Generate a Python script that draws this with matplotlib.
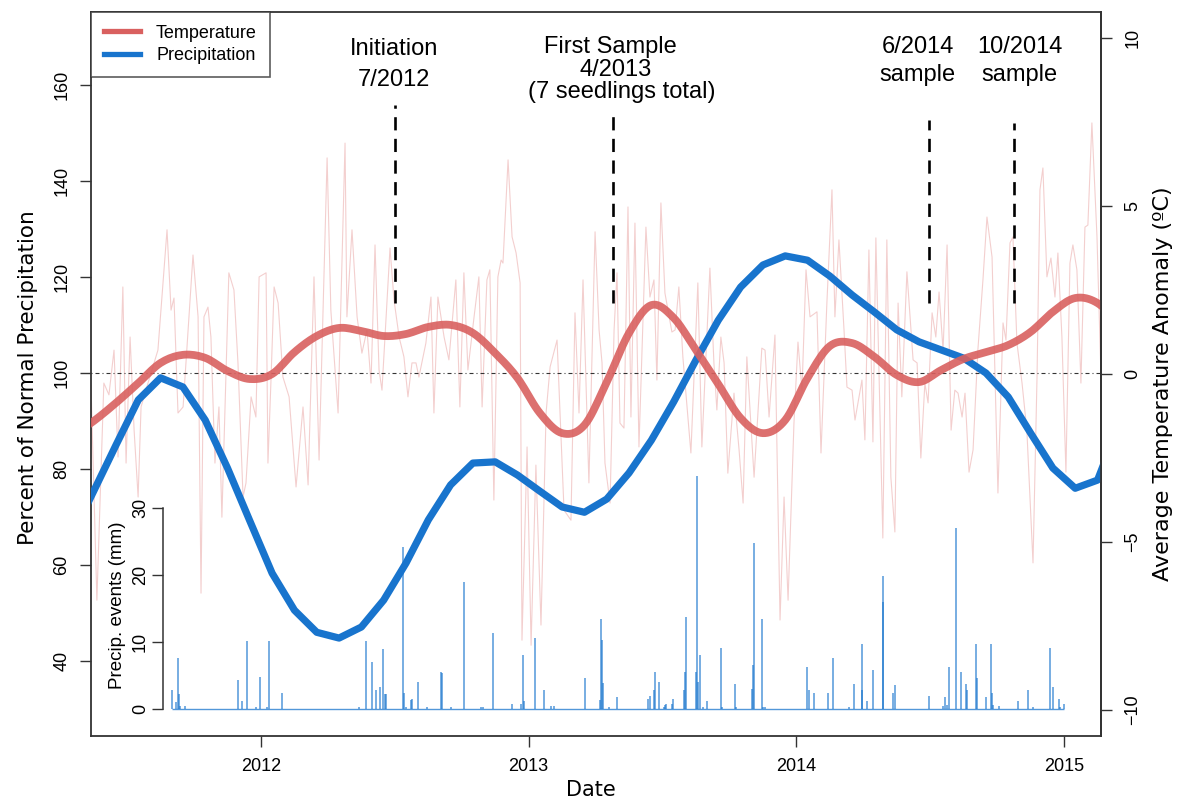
import numpy as np
import matplotlib
matplotlib.use("Agg")
import matplotlib.pyplot as plt
from matplotlib.lines import Line2D

plt.rcParams['font.family'] = ['Liberation Sans', 'DejaVu Sans']

# ---- data ----
# smoothed monthly series (mid-month), Apr 2011 .. Mar 2015
month_first = 2011 + 3.5 / 12
precip_pct = [65.8, 75.4, 85.0, 94.4, 99.0, 97.1, 90.2, 80.2, 69.2,
              58.3, 50.6, 46.0, 44.8, 47.1, 52.7, 60.4, 69.4, 76.7, 81.25, 81.5, 78.75,
              75.4, 72.1, 71.0, 73.75, 79.2, 86.0, 94.0, 102.7, 111.0, 117.9, 122.5, 124.4,
              123.5, 120.2, 116.25, 112.7, 109.0, 106.5, 104.8, 103.1, 100.0, 95.0, 87.5, 80.2,
              76.0, 77.7, 89.6]
temp_smooth = [-1.85, -1.40, -0.86, -0.27, 0.33, 0.57, 0.48, 0.09, -0.15,
               0.00, 0.65, 1.13, 1.37, 1.28, 1.13, 1.19, 1.40, 1.46, 1.22, 0.62, -0.12,
               -1.16, -1.76, -1.52, -0.24, 1.22, 2.05, 1.67, 0.71, -0.30, -1.31, -1.76, -1.37,
               -0.12, 0.83, 0.92, 0.51, -0.03, -0.24, 0.12, 0.45, 0.65, 0.86, 1.25, 1.85,
               2.26, 2.11, 1.46]

# raw temperature anomaly (faint line)
temp_raw_x = [2011.365, 2011.387, 2011.413, 2011.432, 2011.451, 2011.466, 2011.484, 2011.496,
              2011.511, 2011.526, 2011.541, 2011.552, 2011.570, 2011.615, 2011.649, 2011.664,
              2011.675, 2011.690, 2011.709, 2011.746, 2011.765, 2011.776, 2011.787, 2011.802,
              2011.813, 2011.828, 2011.843, 2011.854, 2011.880, 2011.899, 2011.914, 2011.933,
              2011.944, 2011.963, 2011.981, 2011.993, 2012.019, 2012.026, 2012.037, 2012.049,
              2012.064, 2012.082, 2012.105, 2012.131, 2012.157, 2012.176, 2012.198, 2012.217,
              2012.247, 2012.261, 2012.288, 2012.314,
              2012.321, 2012.340, 2012.359, 2012.377, 2012.396, 2012.411, 2012.426, 2012.441,
              2012.452, 2012.482, 2012.497, 2012.516, 2012.534, 2012.549, 2012.564, 2012.579,
              2012.590, 2012.616, 2012.635, 2012.646, 2012.661, 2012.684, 2012.702, 2012.728,
              2012.743, 2012.758, 2012.773, 2012.796, 2012.814, 2012.826, 2012.844, 2012.855,
              2012.870, 2012.885, 2012.897, 2012.904, 2012.923, 2012.938, 2012.953, 2012.968,
              2012.975, 2012.994, 2013.009, 2013.027, 2013.046, 2013.065, 2013.080, 2013.106,
              2013.132, 2013.158, 2013.173, 2013.188, 2013.203, 2013.225, 2013.248, 2013.263,
              2013.274, 2013.285, 2013.304, 2013.319, 2013.330, 2013.341, 2013.356, 2013.371,
              2013.382, 2013.397, 2013.412, 2013.438, 2013.453, 2013.468, 2013.479, 2013.494,
              2013.509, 2013.535, 2013.547, 2013.561, 2013.576, 2013.606, 2013.632, 2013.647,
              2013.677, 2013.692, 2013.703, 2013.718, 2013.730, 2013.744, 2013.767, 2013.786,
              2013.801, 2013.815, 2013.842, 2013.871, 2013.883, 2013.898, 2013.920, 2013.939,
              2013.954, 2013.969, 2013.991, 2014.006, 2014.021, 2014.036, 2014.051, 2014.077,
              2014.092, 2014.114, 2014.133, 2014.144, 2014.159, 2014.178, 2014.189, 2014.208,
              2014.219, 2014.245, 2014.256, 2014.271, 2014.286, 2014.297, 2014.323, 2014.338,
              2014.353, 2014.368, 2014.380, 2014.394, 2014.413, 2014.436, 2014.451, 2014.465,
              2014.480, 2014.492, 2014.507, 2014.521, 2014.533, 2014.548, 2014.563, 2014.578,
              2014.592, 2014.604, 2014.619, 2014.630, 2014.645, 2014.660, 2014.678, 2014.697,
              2014.712, 2014.731, 2014.753, 2014.772, 2014.783, 2014.798, 2014.809, 2014.824,
              2014.843, 2014.861, 2014.884, 2014.899, 2014.910, 2014.921, 2014.936, 2014.951,
              2014.966, 2014.977, 2014.992, 2015.007, 2015.022, 2015.033, 2015.048, 2015.063,
              2015.078, 2015.089, 2015.104, 2015.123, 2015.138]
temp_raw = [-0.33, -6.73, -0.27, -0.62, 0.71, -2.47, 2.59, -2.65, 1.10, -1.67, -3.66, -0.98,
            -0.48, 0.71, 4.29, 1.90, 2.26, -1.16, -0.98, 3.54, 1.70, -6.52, 1.70, 1.99, 1.10,
            -2.65, -0.98, -4.26, 3.01, 2.50, 0.33, -3.66, -3.24, -0.68, -1.28, 2.89, 3.01, -2.65,
            -0.27, 2.59, 2.11, -0.09, -0.68, -3.36, -0.98, -3.30, 2.89, -2.56, 6.43, 1.90, -1.16,
            6.87,
            1.70, 4.29, 1.70, 0.62, 1.31, -0.27, 3.84, 0.12, -0.48, 3.75, 2.20, 1.10, 0.51, -0.68,
            0.33, 0.33, -0.09, 0.92, 2.29, -1.16, 2.29, 1.10, 0.42, 2.80, -0.98, 3.01, 0.12, 1.70,
            2.89, -0.98, 2.80, 3.10, -3.75, 2.89, 3.39, 3.30, 6.37, 4.08, 3.60, 2.71, -7.92, -2.17,
            -8.07, -2.71, -7.47, -1.16, 0.21, 1.01, -4.05, -4.35, 1.82, -1.16, 2.80, -3.24, 4.23,
            1.31,
            0.33, -2.65, -3.84, 1.31, 3.01, -1.46, -1.61, 4.97, -1.28, 4.49, -2.17, 4.37, 2.29,
            2.80, -0.18, 5.09, 2.41, 1.25, 1.31, 2.59, 0.51, -2.35, 2.71, -2.17, 3.15, 0.33, -1.07,
            1.10, 0.33, -2.95, -0.57, -2.26, -3.84, 0.51, -3.07, 0.77, 0.71, -1.28, 1.16, -7.32,
            -3.66, -6.73, -1.46, 0.95, -0.48, 3.10, 1.70, 1.85, -2.35, 2.11, 5.48, 1.70, 3.99,
            1.31, -0.39, -0.48,
            -1.37, -0.18, -1.96, 3.69, -2.02, 4.05, -4.88, 3.99, -3.07, -4.70, 2.11, -0.68, 3.04,
            0.42, 0.33, -2.50, -0.27, -0.86, 1.82, 1.10, 2.44, 0.71, 3.84, -1.67, -0.48, -0.57,
            -1.28, -0.57, -2.92, -2.26, 0.71, 2.80, 4.67, 3.48, -3.54, 1.52, 1.01, 3.90, 4.08,
            0.92, -0.27, -1.67, -5.62, -0.09, 5.48, 6.13, 2.89, 3.45, 2.29, 3.60, 1.10, -2.92,
            3.30, 3.84, 3.10, -0.27, 4.37, 4.43, 7.47, 4.08, -0.09]

# daily precipitation events (mm)
ev_x = [2011.668, 2011.682, 2011.690, 2011.694, 2011.697, 2011.716, 2011.914, 2011.929, 2011.948,
        2011.981, 2011.996, 2012.022, 2012.030, 2012.078, 2012.366, 2012.392, 2012.415, 2012.430,
        2012.445, 2012.456, 2012.463, 2012.467, 2012.530, 2012.534, 2012.542, 2012.560, 2012.564,
        2012.586, 2012.620, 2012.672, 2012.676, 2012.710, 2012.758, 2012.822, 2012.829, 2012.867,
        2012.938, 2012.971, 2012.979, 2012.982, 2013.024, 2013.057, 2013.083, 2013.095, 2013.210,
        2013.266, 2013.270, 2013.274, 2013.278, 2013.300, 2013.330, 2013.446, 2013.453, 2013.468,
        2013.472, 2013.487, 2013.505, 2013.509, 2013.513, 2013.535, 2013.539, 2013.580, 2013.584,
        2013.588, 2013.625, 2013.629, 2013.632, 2013.640, 2013.651, 2013.666, 2013.718, 2013.722,
        2013.771, 2013.774, 2013.834, 2013.838, 2013.840, 2013.872, 2013.875, 2013.883, 2014.040,
        2014.047, 2014.066, 2014.118, 2014.137, 2014.196, 2014.215, 2014.245, 2014.247, 2014.264,
        2014.286, 2014.323, 2014.325, 2014.361, 2014.368, 2014.495, 2014.548, 2014.555, 2014.563,
        2014.570, 2014.596, 2014.615, 2014.634, 2014.637, 2014.671, 2014.673, 2014.708, 2014.727,
        2014.729, 2014.734, 2014.757, 2014.828, 2014.865, 2014.884, 2014.947, 2014.959, 2014.981,
        2014.985, 2015.000]
ev_mm = [2.9, 1.0, 7.6, 2.2, 0.4, 0.4, 4.3, 1.2, 10.1, 0.3, 4.7, 0.3, 10.1, 2.4, 0.3, 10.1, 7.0,
         2.9, 3.3, 8.9, 2.2, 2.2, 24.2, 2.4, 0.3, 1.3, 1.5, 4.0, 0.3, 5.5, 5.3, 0.3, 19.0, 0.3, 0.3,
         11.3, 0.8, 0.8, 8.1, 1.2, 10.6, 2.8, 0.4, 0.4, 4.6, 1.3, 13.4, 10.3, 3.9, 0.3, 1.8, 1.5,
         1.9, 2.8, 5.5, 4.0, 0.3, 0.6, 0.8, 0.8, 1.5, 2.8, 5.5, 13.7, 5.5, 34.8, 4.0, 8.1, 0.3,
         1.2, 9.1, 0.3, 3.7, 0.3, 3.0, 6.6, 24.8, 13.4, 0.3, 0.3, 6.3, 2.8, 2.4, 2.4, 7.6, 0.3,
         3.7, 9.7, 2.8, 1.2, 5.8, 19.9, 16.0, 2.4, 3.6, 1.9, 0.4, 1.8, 0.6, 6.3, 27.0, 5.5, 3.7,
         2.8, 9.7, 4.6, 1.8, 9.7, 2.4, 0.6, 0.4, 1.2, 2.8, 0.3, 9.1, 3.3, 1.5, 0.3, 0.8]

# sampling events (dashed markers) and their captions
sample_x = [2012.501, 2013.315, 2014.495, 2014.813]
sample_top = [155.8, 153.75, 152.7, 152.1]
sample_bottom = 114.6
captions = [(2012.497, 166.3, "Initiation"), (2012.497, 159.7, "7/2012"),
            (2013.307, 166.7, "First Sample"), (2013.326, 161.9, "4/2013"),
            (2013.349, 157.3, "(7 seedlings total)"),
            (2014.454, 166.7, "6/2014"), (2014.454, 160.9, "sample"),
            (2014.835, 166.7, "10/2014"), (2014.835, 160.9, "sample")]

year_ticks = [2012, 2013, 2014, 2015]
pct_ticks = [40, 60, 80, 100, 120, 140, 160]
temp_ticks = [-10, -5, 0, 5, 10]
ev_ticks = [0, 10, 20, 30]

RED = '#d9605f'
BLUE = '#1874CD'
DARK = '#333333'

month_x = month_first + np.arange(len(precip_pct)) / 12.0


def smooth_path(x, y, steps=10):
    # Catmull-Rom through the read points, only so the thick curve is drawn smoothly
    x = np.asarray(x, float)
    y = np.asarray(y, float)
    px = np.concatenate([[2 * x[0] - x[1]], x, [2 * x[-1] - x[-2]]])
    py = np.concatenate([[2 * y[0] - y[1]], y, [2 * y[-1] - y[-2]]])
    t = np.linspace(0, 1, steps, endpoint=False)
    xs, ys = [], []
    for i in range(1, len(px) - 2):
        for p, out in ((px, xs), (py, ys)):
            p0, p1, p2, p3 = p[i - 1], p[i], p[i + 1], p[i + 2]
            out.append(0.5 * (2 * p1 + (p2 - p0) * t + (2 * p0 - 5 * p1 + 4 * p2 - p3) * t ** 2
                              + (3 * p1 - p0 - 3 * p2 + p3) * t ** 3))
    xs.append([x[-1]])
    ys.append([y[-1]])
    return np.concatenate(xs), np.concatenate(ys)


# ---- figure ----
fig = plt.figure(figsize=(11.81, 8.02), dpi=100)
ax = fig.add_axes([91 / 1181, 66 / 802, 1010 / 1181, 724 / 802])
ax_t = ax.twinx()
ax_e = ax.twinx()

ax.set_xlim(2011.365, 2015.138)
ax.set_ylim(24.4, 175.2)
ax_t.set_ylim(-10.77, 10.77)
ax_e.set_ylim(-4.03, 104.0)

# everything drawn on the base axes so the stacking order is easy to control
ax.plot(temp_raw_x, temp_raw, color=RED, alpha=0.3, lw=0.8,
        transform=ax_t.transData, zorder=1)
ax.axhline(100, color=DARK, lw=0.8, dashes=(0.9, 2.7, 3.6, 2.7), zorder=2)
ax.vlines(sample_x, sample_bottom, sample_top, color='black', lw=1.9,
          linestyles=[(0, (5.0, 3.2))], zorder=2)
ax.hlines(0, min(ev_x), max(ev_x), color=BLUE, alpha=0.75, lw=1.0,
          transform=ax_e.transData, zorder=2)
ax.vlines(ev_x, 0, ev_mm, color=BLUE, alpha=0.75, lw=1.1,
          transform=ax_e.transData, zorder=2)
ax.plot(month_x, precip_pct, color=BLUE, lw=5.2, solid_joinstyle='round', zorder=3)
tx, ty = smooth_path(month_x, temp_smooth)
ax.plot(tx, ty, color=RED, lw=5.6, alpha=0.9, solid_capstyle='butt',
        transform=ax_t.transData, zorder=4)

for x, y, s in captions:
    ax.text(x, y, s, ha='center', va='baseline', fontsize=17, color='black', zorder=5)

# axes cosmetics
for a in (ax, ax_t, ax_e):
    for sp in a.spines.values():
        sp.set_color(DARK)
        sp.set_linewidth(1.3)
for name in ('left', 'right', 'top', 'bottom'):
    ax_t.spines[name].set_visible(name == 'right')
    ax_e.spines[name].set_visible(name == 'left')

ax.set_xticks(year_ticks)
ax.set_xticklabels([str(y) for y in year_ticks])
ax.set_yticks(pct_ticks)
ax_t.set_yticks(temp_ticks)
ax.tick_params(axis='x', length=8, width=1.0, color=DARK, labelsize=13, pad=8)
ax.tick_params(axis='y', length=8, width=1.0, color=DARK, labelsize=13, pad=7,
               labelrotation=90)
ax_t.tick_params(axis='y', length=8, width=1.0, color=DARK, labelsize=13, pad=9,
                 labelrotation=90)
for lab in ax.get_yticklabels():
    lab.set_va('center')
for lab in ax_t.get_yticklabels():
    lab.set_va('center')

ax_e.yaxis.tick_left()
ax_e.spines['left'].set_position(('data', 2011.634))
ax_e.spines['left'].set_bounds(0, 30)
ax_e.spines['left'].set_linewidth(1.1)
ax_e.set_yticks(ev_ticks)
ax_e.tick_params(axis='y', length=8, width=1.0, color=DARK, labelsize=13, pad=2,
                 labelrotation=90)
for lab in ax_e.get_yticklabels():
    lab.set_va('center')

# axis titles
fig.text(28 / 1181, 1 - 378 / 802, "Percent of Normal Precipitation", rotation=90,
         ha='center', va='center', fontsize=15.5, family='DejaVu Sans')
fig.text(1163 / 1181, 1 - 384 / 802, "Average Temperature Anomaly (ºC)", rotation=90,
         ha='center', va='center', fontsize=16, family='DejaVu Sans')
fig.text(591 / 1181, 1 - 790 / 802, "Date", ha='center', va='center', fontsize=15,
         family='DejaVu Sans')
fig.text(118 / 1181, 1 - 605 / 802, "Precip. events (mm)", rotation=90,
         ha='center', va='center', fontsize=13.5)

handles = [Line2D([], [], color=RED, lw=3.8), Line2D([], [], color=BLUE, lw=3.8)]
leg = ax.legend(handles, ["Temperature", "Precipitation"], loc='upper left',
                bbox_to_anchor=(0, 1), borderaxespad=0, fontsize=13, frameon=True,
                fancybox=False, edgecolor=DARK, handlelength=2.0, handletextpad=0.9,
                borderpad=0.7, labelspacing=0.32)
leg.get_frame().set_linewidth(1.2)
leg.set_zorder(6)

fig.savefig("out.png", dpi=100)
